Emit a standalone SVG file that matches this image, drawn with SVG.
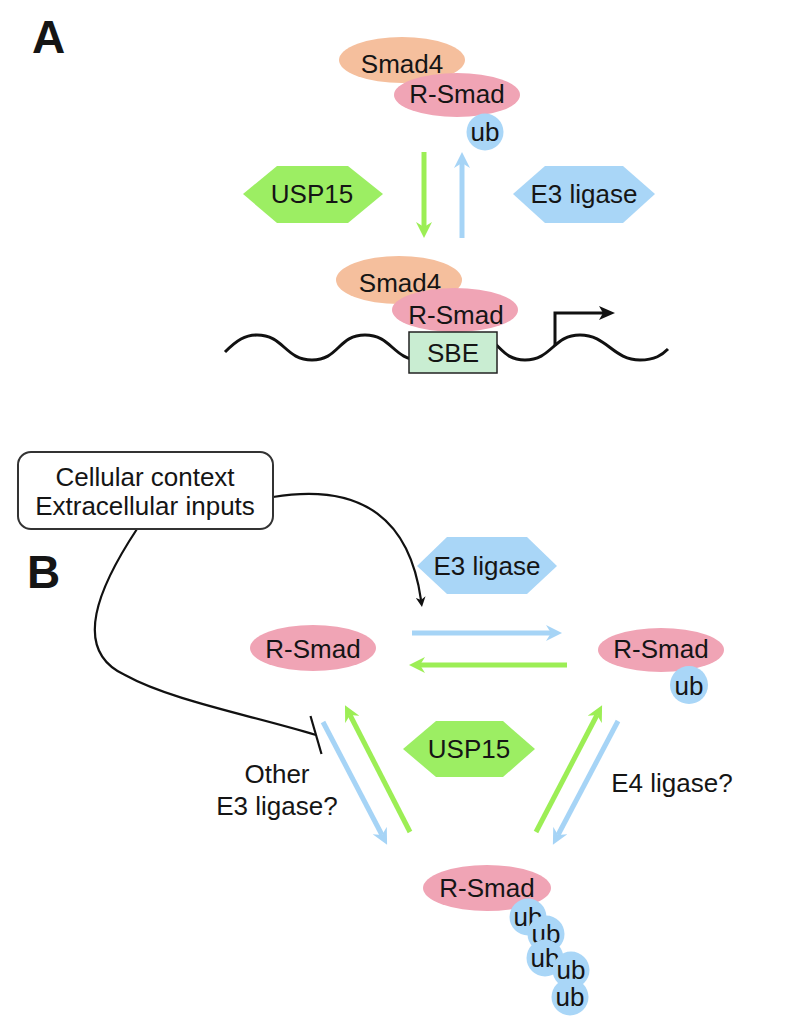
<svg xmlns="http://www.w3.org/2000/svg" width="786" height="1035" viewBox="0 0 786 1035">
<style>
text{font-family:"Liberation Sans",Arial,sans-serif;fill:#151515;font-size:26px;text-anchor:middle}
.lbl{font-size:46px;font-weight:bold;text-anchor:start}
.pink{fill:#f0a4b5}
.org{fill:#f5bf9d}
.blue{fill:#a9d6f7}
.green{fill:#9cee63}
.ga{stroke:#9cee55;stroke-width:5;fill:none;marker-end:url(#mg)}
.ba{stroke:#a6d4f6;stroke-width:5;fill:none;marker-end:url(#mb)}
.blk{stroke:#111;stroke-width:2.2;fill:none}
</style>
<defs>
<marker id="mg" viewBox="0 0 16 16" markerWidth="16" markerHeight="16" refX="5" refY="8" orient="auto" markerUnits="userSpaceOnUse"><path d="M0,0 L16,8 L0,16 L5,8 z" fill="#9cee55"/></marker>
<marker id="mb" viewBox="0 0 16 16" markerWidth="16" markerHeight="16" refX="5" refY="8" orient="auto" markerUnits="userSpaceOnUse"><path d="M0,0 L16,8 L0,16 L5,8 z" fill="#a6d4f6"/></marker>
<marker id="mk" viewBox="0 0 10 10" markerWidth="10" markerHeight="10" refX="3" refY="5" orient="auto" markerUnits="userSpaceOnUse"><path d="M0,0 L10,5 L0,10 L3,5 z" fill="#111"/></marker>
<marker id="mk2" viewBox="0 0 16 16" markerWidth="16" markerHeight="16" refX="4" refY="8" orient="auto" markerUnits="userSpaceOnUse"><path d="M0,1 L16,8 L0,15 L4,8 z" fill="#111"/></marker>
</defs>

<text class="lbl" x="32" y="53">A</text>
<text class="lbl" x="27" y="588">B</text>

<g id="connectors">
<line class="ga" x1="424" y1="152" x2="424" y2="227"/>
<line class="ba" x1="462" y1="238" x2="462" y2="163"/>
<line class="ba" x1="412" y1="633" x2="551" y2="633"/>
<line class="ga" x1="567" y1="665" x2="420" y2="665"/>
<line class="ba" x1="323" y1="722" x2="382" y2="835"/>
<line class="ga" x1="410" y1="832" x2="350" y2="715"/>
<line class="ga" x1="536" y1="832" x2="597" y2="715"/>
<line class="ba" x1="618" y1="721" x2="558" y2="835"/>
<path class="blk" d="M273,497 C365,482 410,522 421,600" marker-end="url(#mk)"/>
<path class="blk" d="M137,529 C100,585 70,650 125,675 C170,700 250,715 316,735"/>
<line class="blk" x1="310.5" y1="716" x2="321.5" y2="754"/>
</g>

<g id="dna">
<path d="M225,352 C237,340 245,335 257,335 C284,335 285,360 312,360 C339,360 338,335 365,335 C392,335 393,360 420,360 C447,360 446,335 473,335 C500,335 498,360 525,360 C552,360 553,335 580,335 C607,335 613,360 640,360 C655,360 662,355 668,349" fill="none" stroke="#111" stroke-width="3"/>
<path d="M555,346 L555,313 L603,313" fill="none" stroke="#111" stroke-width="3" marker-end="url(#mk2)"/>
</g>

<g id="complexA-top">
<ellipse class="org" cx="402" cy="60" rx="63" ry="23"/>
<text x="402" y="73">Smad4</text>
<ellipse class="pink" cx="457" cy="95" rx="63" ry="22"/>
<text x="457" y="103">R-Smad</text>
<circle class="blue" cx="485" cy="132" r="18.5"/>
<text x="485" y="141">ub</text>
</g>

<g id="usp15-A">
<polygon class="green" points="243,194 277,166 348,166 383,194 348,223 277,223"/>
<text x="312" y="203">USP15</text>
</g>

<g id="e3-A">
<polygon class="blue" points="513,194 545,166 623,166 655,194 623,223 545,223"/>
<text x="584" y="203">E3 ligase</text>
</g>

<g id="complexA-bottom">
<ellipse class="org" cx="399" cy="280" rx="63" ry="24"/>
<text x="400" y="292">Smad4</text>
<ellipse class="pink" cx="455" cy="310" rx="63" ry="22"/>
<text x="456" y="324">R-Smad</text>
</g>

<g id="sbe">
<rect x="409" y="332" width="88" height="41" fill="#c9edd2" stroke="#222" stroke-width="1.5"/>
<text x="453" y="362">SBE</text>
</g>

<g id="context">
<rect x="18" y="452" width="255" height="77" rx="13" fill="#fff" stroke="#333" stroke-width="2"/>
<text x="145" y="486">Cellular context</text>
<text x="145" y="515">Extracellular inputs</text>
</g>

<g id="e3-B">
<polygon class="blue" points="417,566 447,537 527,537 557,566 527,594 447,594"/>
<text x="487" y="575">E3 ligase</text>
</g>

<g id="rsmad-left">
<ellipse class="pink" cx="313" cy="648" rx="63" ry="23"/>
<text x="313" y="658">R-Smad</text>
</g>

<g id="rsmad-right">
<ellipse class="pink" cx="661" cy="650" rx="63" ry="22"/>
<text x="661" y="658">R-Smad</text>
<circle class="blue" cx="689" cy="685" r="19"/>
<text x="689" y="695">ub</text>
</g>

<g id="usp15-B">
<polygon class="green" points="403,749 436,721 503,721 535,749 503,777 436,777"/>
<text x="469" y="758">USP15</text>
</g>

<g id="label-other">
<text x="277" y="783">Other</text>
<text x="277" y="815">E3 ligase?</text>
</g>

<g id="label-e4">
<text x="672" y="792">E4 ligase?</text>
</g>

<g id="rsmad-bottom">
<ellipse class="pink" cx="487" cy="888" rx="64" ry="23"/>
<text x="487" y="897">R-Smad</text>
<circle class="blue" cx="528" cy="917" r="18.5"/>
<text x="528" y="926">ub</text>
<circle class="blue" cx="546" cy="934" r="18.5"/>
<text x="546" y="943">ub</text>
<circle class="blue" cx="545" cy="958" r="18.5"/>
<text x="545" y="967">ub</text>
<circle class="blue" cx="571" cy="970" r="18.5"/>
<text x="571" y="979">ub</text>
<circle class="blue" cx="570" cy="997" r="18.5"/>
<text x="570" y="1006">ub</text>
</g>
</svg>
